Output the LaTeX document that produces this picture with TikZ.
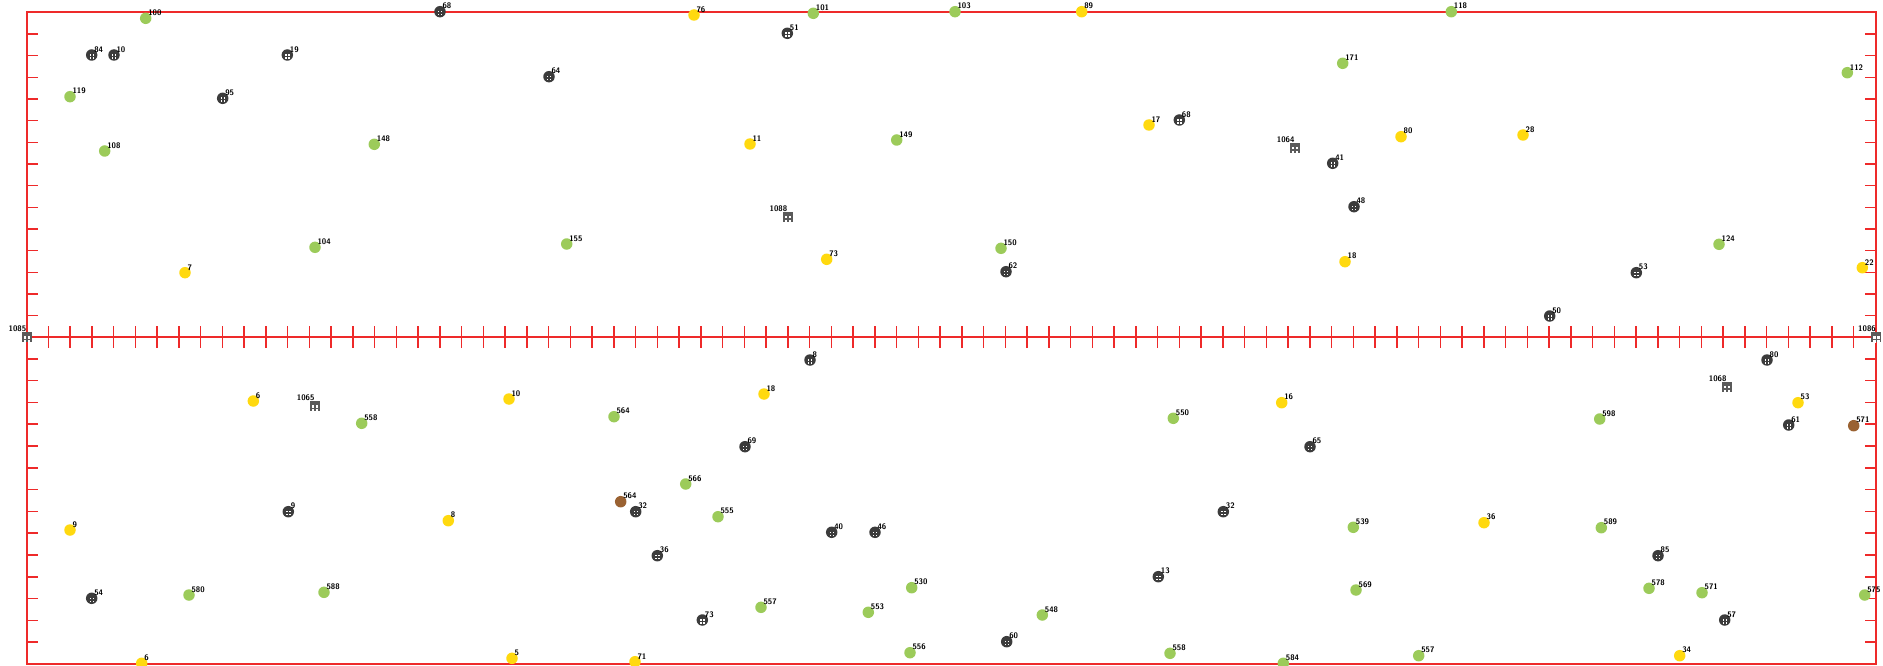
\documentclass[tikz,border=0pt]{standalone}
\usepackage{tikz}

\definecolor{axred}{HTML}{EE2A2A}
\definecolor{ptgreen}{HTML}{9CCB5A}
\definecolor{ptyellow}{HTML}{FFD90F}
\definecolor{ptdark}{HTML}{3C3C3C}
\definecolor{ptgray}{HTML}{5A5A5A}
\definecolor{ptbrown}{HTML}{9A6232}

\begin{document}
\begin{tikzpicture}[x=1pt, y=-1pt,
    frame/.style={draw=axred, line width=1.6pt},
    tick/.style={draw=axred, line width=1.5pt},
    dot/.style={circle, inner sep=0pt, minimum size=11.5pt},
    grn/.style={dot, fill=ptgreen},
    yel/.style={dot, fill=ptyellow},
    brn/.style={dot, fill=ptbrown},
    drk/.style={dot, fill=ptdark, path picture={
        \foreach \a/\b in {-2.2/-2.2, 0.8/-2.2, -2.2/0.8, 0.8/0.8}
          \fill[white] ([shift={(\a pt,\b pt)}]path picture bounding box.center) rectangle ++(1.4pt,-1.4pt);}},
    sqr/.style={rectangle, inner sep=0pt, minimum size=10pt, fill=ptgray, path picture={
        \foreach \a/\b in {-3.2/-3.2, 0.8/-3.2, -3.2/0.8, 0.8/0.8}
          \fill[white] ([shift={(\a pt,\b pt)}]path picture bounding box.center) rectangle ++(2.4pt,-2.4pt);}},
    lab/.style={font=\sffamily\bfseries\fontsize{8}{8}\selectfont, inner sep=0.3pt, label distance=-3pt}
  ]
    \useasboundingbox (0,0) rectangle (1883,666);

    % two panels
    \draw[frame] (26.7,12.3) rectangle (1875.7,337);
    \draw[frame] (26.7,337) rectangle (1875.7,664);
    \foreach \k in {1,...,84}
      \draw[tick] ({26.7+\k*21.75},326) -- ({26.7+\k*21.75},348);
    \foreach \j in {1,...,14} {
      \draw[tick] (26.7,{12.3+\j*21.67}) -- ++(11,0);
      \draw[tick] (1875.7,{12.3+\j*21.67}) -- ++(-11,0);
      \draw[tick] (26.7,{337+\j*21.8}) -- ++(11,0);
      \draw[tick] (1875.7,{337+\j*21.8}) -- ++(-11,0);
    }

    % green points
    \foreach \x/\y/\n [count=\i] in {145.7/18.3/100, 70/96.7/119, 104.7/151/108, 374.3/144.3/148,
        315/247.3/104, 813.3/13.3/101, 896.7/140/149, 566.7/244/155, 955/11.7/103,
        1342.7/63.3/171, 1001/248.3/150, 1451.3/11.7/118, 1847.3/72.7/112, 1719/244.3/124,
        361.7/423.3/558, 189/595/580, 324/592.3/588, 614/416.7/564, 685.7/484/566,
        718/516.7/555, 911.7/587.7/530, 761/607.3/557, 868.3/612.3/553, 910/652.7/556,
        1173.3/418.3/550, 1353.3/527.3/539, 1356/590/569, 1042.3/615/548, 1170/653.3/558,
        1283.3/663.3/584, 1599.7/419/598, 1601.3/527.7/589, 1649/588.3/578, 1702/592.7/571,
        1864.7/595/575, 1418.7/655.7/557}
      \node[grn, label={[lab]north east:\n}] (g\i) at (\x,\y) {};

    % yellow points
    \foreach \x/\y/\n [count=\i] in {185/272.7/7, 694/15/76, 750/144/11, 826.7/259.3/73,
        1081.7/11.7/89, 1149/125/17, 1401/136.7/80, 1345/261.7/18, 1523/135/28,
        1862.3/267.7/22, 253.3/401/6, 70/530/9, 448.3/520.7/8, 141.7/663.3/6,
        509/399/10, 764/394/18, 512/658.3/5, 635/661.7/71, 1281.7/402.7/16,
        1798/402.7/53, 1484/522.7/36, 1679.7/655.7/34}
      \node[yel, label={[lab]north east:\n}] (y\i) at (\x,\y) {};

    % dark points
    \foreach \x/\y/\n [count=\i] in {91.7/55/84, 114/55/10, 222.7/98.3/95, 287.3/55/19,
        440/11.7/68, 787.3/33.3/51, 549/76.7/64, 1179.3/120/68, 1332.7/163.3/41,
        1354/206.7/48, 1006/271.7/62, 1636.3/272.7/53, 1549.7/316/50,
        288.3/511.7/9, 91.7/598.3/54, 810/360/8, 745/446.7/69, 635.7/511.7/32,
        831.7/532.3/40, 875/532.3/46, 657.3/555.7/36, 702.3/620/73, 1310/446.7/65,
        1223.3/511.7/32, 1158.3/576.7/13, 1006.7/641.7/60, 1767/360/80, 1788.7/425/61,
        1658/555.7/85, 1724.7/620/57}
      \node[drk, label={[lab]north east:\n}] (d\i) at (\x,\y) {};

    % brown points
    \node[brn, label={[lab]north east:564}] (b1) at (620.7,501.7) {};
    \node[brn, label={[lab]north east:571}] (b2) at (1853.7,425.7) {};

    % square points
    \foreach \x/\y/\n [count=\i] in {787.7/216.7/1088, 1295/147.7/1064, 26.7/337/1085,
        1876.3/337/1086, 315/406/1065, 1727/386.7/1068}
      \node[sqr, label={[lab, anchor=south east, label distance=-0.5pt]north:\n}] (s\i) at (\x,\y) {};
  \end{tikzpicture}
\end{document}
